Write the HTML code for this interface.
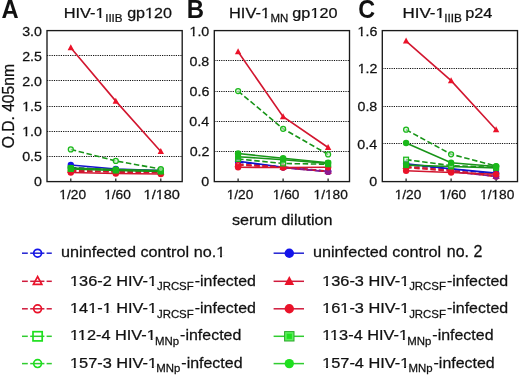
<!DOCTYPE html>
<html><head><meta charset="utf-8"><style>
html,body{margin:0;padding:0;background:#fff;overflow:hidden;}
svg{display:block;}
text{font-family:"Liberation Sans", sans-serif;fill:#111;stroke:#111;stroke-width:0.25px;}
svg{will-change:transform;}
</style></head><body>
<svg width="520" height="377" viewBox="0 0 520 377">
<rect width="520" height="377" fill="#fff"/>
<text transform="translate(1.51,18) scale(0.9493,1)" font-size="25" font-weight="bold" style="stroke:none">A</text>
<text transform="translate(186.84,18) scale(0.9574,1)" font-size="25" font-weight="bold" style="stroke:none">B</text>
<text transform="translate(358.37,18) scale(0.9344,1)" font-size="25" font-weight="bold" style="stroke:none">C</text>
<g transform="translate(63.69,18) scale(1.0777,1)"><text font-size="15.2">HIV-1</text><rect x="29.40" y="-1.74" width="3.73" height="2.84" fill="#fff"/><rect x="34.94" y="-1.74" width="3.05" height="2.84" fill="#fff"/></g>
<text transform="translate(105.15,22) scale(1.0373,1)" font-size="11.2">IIIB</text>
<g transform="translate(127.16,18) scale(1.0599,1)"><text font-size="15.2">gp120</text><rect x="16.74" y="-1.74" width="3.73" height="2.84" fill="#fff"/><rect x="22.28" y="-1.74" width="3.05" height="2.84" fill="#fff"/></g>
<g transform="translate(228.99,18) scale(1.0807,1)"><text font-size="15.2">HIV-1</text><rect x="29.38" y="-1.74" width="3.73" height="2.84" fill="#fff"/><rect x="34.92" y="-1.74" width="3.05" height="2.84" fill="#fff"/></g>
<text transform="translate(270.38,22) scale(1.0241,1)" font-size="11.2">MN</text>
<g transform="translate(292.35,18) scale(1.0673,1)"><text font-size="15.2">gp120</text><rect x="16.72" y="-1.74" width="3.73" height="2.84" fill="#fff"/><rect x="22.26" y="-1.74" width="3.05" height="2.84" fill="#fff"/></g>
<g transform="translate(402.44,18) scale(1.1164,1)"><text font-size="15.2">HIV-1</text><rect x="29.38" y="-1.74" width="3.73" height="2.84" fill="#fff"/><rect x="34.92" y="-1.74" width="3.05" height="2.84" fill="#fff"/></g>
<text transform="translate(444.14,22) scale(1.0504,1)" font-size="11.2">IIIB</text>
<text transform="translate(465.24,18) scale(1.0727,1)" font-size="15.2">p24</text>
<text transform="translate(14.3,106.2) rotate(-90) scale(1.03,1.056)" text-anchor="middle" font-size="15.2">O.D. 405nm</text>
<line x1="47.00" y1="156.50" x2="182.20" y2="156.50" stroke="#111" stroke-width="1.2" stroke-dasharray="1.2 1.1"/>
<line x1="47.00" y1="131.50" x2="182.20" y2="131.50" stroke="#111" stroke-width="1.2" stroke-dasharray="1.2 1.1"/>
<line x1="47.00" y1="106.50" x2="182.20" y2="106.50" stroke="#111" stroke-width="1.2" stroke-dasharray="1.2 1.1"/>
<line x1="47.00" y1="80.50" x2="182.20" y2="80.50" stroke="#111" stroke-width="1.2" stroke-dasharray="1.2 1.1"/>
<line x1="47.00" y1="55.50" x2="182.20" y2="55.50" stroke="#111" stroke-width="1.2" stroke-dasharray="1.2 1.1"/>
<rect x="47.0" y="30.6" width="135.2" height="151.00" fill="none" stroke="#1a1a1a" stroke-width="1.35"/>
<line x1="70.80" y1="181.6" x2="70.80" y2="178.40" stroke="#1a1a1a" stroke-width="1.2"/>
<line x1="115.80" y1="181.6" x2="115.80" y2="178.40" stroke="#1a1a1a" stroke-width="1.2"/>
<line x1="160.80" y1="181.6" x2="160.80" y2="178.40" stroke="#1a1a1a" stroke-width="1.2"/>
<text transform="translate(34.07,186) scale(1.0700,1)" font-size="13.3">0</text>
<text transform="translate(22.19,161) scale(1.0700,1)" font-size="13.3">0.5</text>
<g transform="translate(22.19,136) scale(1.0700,1)"><text font-size="13.3">1.0</text><rect x="-0.13" y="-1.60" width="3.24" height="2.70" fill="#fff"/><rect x="4.74" y="-1.60" width="2.64" height="2.70" fill="#fff"/></g>
<g transform="translate(22.19,111) scale(1.0700,1)"><text font-size="13.3">1.5</text><rect x="-0.13" y="-1.60" width="3.24" height="2.70" fill="#fff"/><rect x="4.74" y="-1.60" width="2.64" height="2.70" fill="#fff"/></g>
<text transform="translate(22.19,86) scale(1.0700,1)" font-size="13.3">2.0</text>
<text transform="translate(22.19,61) scale(1.0700,1)" font-size="13.3">2.5</text>
<text transform="translate(22.19,36) scale(1.0700,1)" font-size="13.3">3.0</text>
<g transform="translate(59.34,199) scale(1.0400,1)"><text font-size="13.2">1/20</text><rect x="-0.13" y="-1.59" width="3.21" height="2.69" fill="#fff"/><rect x="4.71" y="-1.59" width="2.62" height="2.69" fill="#fff"/></g>
<g transform="translate(104.14,199) scale(1.0400,1)"><text font-size="13.2">1/60</text><rect x="-0.13" y="-1.59" width="3.21" height="2.69" fill="#fff"/><rect x="4.71" y="-1.59" width="2.62" height="2.69" fill="#fff"/></g>
<g transform="translate(143.57,199) scale(1.1024,1)"><text font-size="13.2">1/180</text><rect x="-0.13" y="-1.59" width="3.21" height="2.69" fill="#fff"/><rect x="4.71" y="-1.59" width="2.62" height="2.69" fill="#fff"/><rect x="10.85" y="-1.59" width="3.21" height="2.69" fill="#fff"/><rect x="15.69" y="-1.59" width="2.62" height="2.69" fill="#fff"/></g>
<polyline points="70.80,165.00 115.80,169.03 160.80,170.53" fill="none" stroke="#1414cc" stroke-width="1.6"/>
<circle cx="70.80" cy="165.00" r="3.2" fill="#1414ea"/>
<circle cx="115.80" cy="169.03" r="3.2" fill="#1414ea"/>
<circle cx="160.80" cy="170.53" r="3.2" fill="#1414ea"/>
<polyline points="70.80,167.52 115.80,170.03 160.80,171.04" fill="none" stroke="#1414cc" stroke-width="1.6" stroke-dasharray="5.5 2.6"/>
<circle cx="70.80" cy="167.52" r="2.5" fill="#e2e2fc" fill-opacity="0.6" stroke="#1414ea" stroke-width="1.25"/>
<circle cx="115.80" cy="170.03" r="2.5" fill="#e2e2fc" fill-opacity="0.6" stroke="#1414ea" stroke-width="1.25"/>
<circle cx="160.80" cy="171.04" r="2.5" fill="#e2e2fc" fill-opacity="0.6" stroke="#1414ea" stroke-width="1.25"/>
<polyline points="70.80,172.55 115.80,173.55 160.80,174.06" fill="none" stroke="#d2162f" stroke-width="1.6"/>
<circle cx="70.80" cy="172.55" r="3.2" fill="#ea1229"/>
<circle cx="115.80" cy="173.55" r="3.2" fill="#ea1229"/>
<circle cx="160.80" cy="174.06" r="3.2" fill="#ea1229"/>
<polyline points="70.80,171.04 115.80,172.04 160.80,172.55" fill="none" stroke="#d2162f" stroke-width="1.6" stroke-dasharray="5.5 2.6"/>
<circle cx="70.80" cy="171.04" r="2.5" fill="#fce2e5" fill-opacity="0.6" stroke="#ea1229" stroke-width="1.25"/>
<circle cx="115.80" cy="172.04" r="2.5" fill="#fce2e5" fill-opacity="0.6" stroke="#ea1229" stroke-width="1.25"/>
<circle cx="160.80" cy="172.55" r="2.5" fill="#fce2e5" fill-opacity="0.6" stroke="#ea1229" stroke-width="1.25"/>
<polyline points="70.80,170.53 115.80,171.54 160.80,172.04" fill="none" stroke="#d2162f" stroke-width="1.6" stroke-dasharray="5.5 2.6"/>
<polygon points="70.80,167.65 68.20,172.45 73.40,172.45" fill="#fce2e5" fill-opacity="0.6" stroke="#ea1229" stroke-width="1.25"/>
<polygon points="115.80,168.66 113.20,173.46 118.40,173.46" fill="#fce2e5" fill-opacity="0.6" stroke="#ea1229" stroke-width="1.25"/>
<polygon points="160.80,169.16 158.20,173.96 163.40,173.96" fill="#fce2e5" fill-opacity="0.6" stroke="#ea1229" stroke-width="1.25"/>
<polyline points="70.80,168.02 115.80,170.03 160.80,171.04" fill="none" stroke="#189418" stroke-width="1.6" stroke-dasharray="5.5 2.6"/>
<rect x="68.40" y="165.62" width="4.80" height="4.80" fill="#ccefcc" fill-opacity="0.6" stroke="#1ab81a" stroke-width="1.25"/>
<rect x="113.40" y="167.63" width="4.80" height="4.80" fill="#ccefcc" fill-opacity="0.6" stroke="#1ab81a" stroke-width="1.25"/>
<rect x="158.40" y="168.64" width="4.80" height="4.80" fill="#ccefcc" fill-opacity="0.6" stroke="#1ab81a" stroke-width="1.25"/>
<polyline points="70.80,169.03 115.80,170.53 160.80,171.54" fill="none" stroke="#189418" stroke-width="1.6"/>
<rect x="67.80" y="166.03" width="6.00" height="6.00" fill="#1ab81a"/>
<rect x="112.80" y="167.53" width="6.00" height="6.00" fill="#1ab81a"/>
<rect x="157.80" y="168.54" width="6.00" height="6.00" fill="#1ab81a"/>
<polyline points="70.80,168.02 115.80,169.53 160.80,170.53" fill="none" stroke="#189418" stroke-width="1.6"/>
<circle cx="70.80" cy="168.02" r="3.2" fill="#1ab81a"/>
<circle cx="115.80" cy="169.53" r="3.2" fill="#1ab81a"/>
<circle cx="160.80" cy="170.53" r="3.2" fill="#1ab81a"/>
<polyline points="70.80,149.41 115.80,160.98 160.80,169.03" fill="none" stroke="#189418" stroke-width="1.6" stroke-dasharray="5.5 2.6"/>
<circle cx="70.80" cy="149.41" r="2.5" fill="#ccefcc" fill-opacity="0.6" stroke="#1ab81a" stroke-width="1.25"/>
<circle cx="115.80" cy="160.98" r="2.5" fill="#ccefcc" fill-opacity="0.6" stroke="#1ab81a" stroke-width="1.25"/>
<circle cx="160.80" cy="169.03" r="2.5" fill="#ccefcc" fill-opacity="0.6" stroke="#1ab81a" stroke-width="1.25"/>
<polyline points="70.80,47.80 115.80,101.12 160.80,151.42" fill="none" stroke="#d2162f" stroke-width="1.6"/>
<polygon points="70.80,44.32 67.60,50.32 74.00,50.32" fill="#ea1229"/>
<polygon points="115.80,97.64 112.60,103.64 119.00,103.64" fill="#ea1229"/>
<polygon points="160.80,147.94 157.60,153.94 164.00,153.94" fill="#ea1229"/>
<line x1="214.30" y1="151.50" x2="349.50" y2="151.50" stroke="#111" stroke-width="1.2" stroke-dasharray="1.2 1.1"/>
<line x1="214.30" y1="121.50" x2="349.50" y2="121.50" stroke="#111" stroke-width="1.2" stroke-dasharray="1.2 1.1"/>
<line x1="214.30" y1="91.50" x2="349.50" y2="91.50" stroke="#111" stroke-width="1.2" stroke-dasharray="1.2 1.1"/>
<line x1="214.30" y1="60.50" x2="349.50" y2="60.50" stroke="#111" stroke-width="1.2" stroke-dasharray="1.2 1.1"/>
<rect x="214.3" y="30.6" width="135.2" height="151.00" fill="none" stroke="#1a1a1a" stroke-width="1.35"/>
<line x1="238.10" y1="181.6" x2="238.10" y2="178.40" stroke="#1a1a1a" stroke-width="1.2"/>
<line x1="283.10" y1="181.6" x2="283.10" y2="178.40" stroke="#1a1a1a" stroke-width="1.2"/>
<line x1="328.10" y1="181.6" x2="328.10" y2="178.40" stroke="#1a1a1a" stroke-width="1.2"/>
<text transform="translate(201.37,186) scale(1.0700,1)" font-size="13.3">0</text>
<text transform="translate(189.63,156) scale(1.0700,1)" font-size="13.3">0.2</text>
<text transform="translate(189.35,126) scale(1.0700,1)" font-size="13.3">0.4</text>
<text transform="translate(189.56,96) scale(1.0700,1)" font-size="13.3">0.6</text>
<text transform="translate(189.49,66) scale(1.0700,1)" font-size="13.3">0.8</text>
<g transform="translate(189.49,36) scale(1.0700,1)"><text font-size="13.3">1.0</text><rect x="-0.13" y="-1.60" width="3.24" height="2.70" fill="#fff"/><rect x="4.74" y="-1.60" width="2.64" height="2.70" fill="#fff"/></g>
<g transform="translate(226.64,199) scale(1.0400,1)"><text font-size="13.2">1/20</text><rect x="-0.13" y="-1.59" width="3.21" height="2.69" fill="#fff"/><rect x="4.71" y="-1.59" width="2.62" height="2.69" fill="#fff"/></g>
<g transform="translate(272.74,199) scale(1.0400,1)"><text font-size="13.2">1/60</text><rect x="-0.13" y="-1.59" width="3.21" height="2.69" fill="#fff"/><rect x="4.71" y="-1.59" width="2.62" height="2.69" fill="#fff"/></g>
<g transform="translate(313.53,199) scale(1.0400,1)"><text font-size="13.2">1/180</text><rect x="-0.13" y="-1.59" width="3.21" height="2.69" fill="#fff"/><rect x="4.71" y="-1.59" width="2.62" height="2.69" fill="#fff"/><rect x="10.86" y="-1.59" width="3.21" height="2.69" fill="#fff"/><rect x="15.70" y="-1.59" width="2.62" height="2.69" fill="#fff"/></g>
<polyline points="238.10,161.23 283.10,167.26 328.10,171.79" fill="none" stroke="#1414cc" stroke-width="1.6"/>
<circle cx="238.10" cy="161.23" r="3.2" fill="#1414ea"/>
<circle cx="283.10" cy="167.26" r="3.2" fill="#1414ea"/>
<circle cx="328.10" cy="171.79" r="3.2" fill="#1414ea"/>
<polyline points="238.10,161.98 283.10,167.26 328.10,171.04" fill="none" stroke="#1414cc" stroke-width="1.6" stroke-dasharray="5.5 2.6"/>
<circle cx="238.10" cy="161.98" r="2.5" fill="#e2e2fc" fill-opacity="0.6" stroke="#1414ea" stroke-width="1.25"/>
<circle cx="283.10" cy="167.26" r="2.5" fill="#e2e2fc" fill-opacity="0.6" stroke="#1414ea" stroke-width="1.25"/>
<circle cx="328.10" cy="171.04" r="2.5" fill="#e2e2fc" fill-opacity="0.6" stroke="#1414ea" stroke-width="1.25"/>
<polyline points="238.10,165.00 283.10,167.26 328.10,171.64" fill="none" stroke="#d2162f" stroke-width="1.6" stroke-dasharray="5.5 2.6"/>
<circle cx="238.10" cy="165.00" r="2.5" fill="#fce2e5" fill-opacity="0.6" stroke="#ea1229" stroke-width="1.25"/>
<circle cx="283.10" cy="167.26" r="2.5" fill="#fce2e5" fill-opacity="0.6" stroke="#ea1229" stroke-width="1.25"/>
<circle cx="328.10" cy="171.64" r="2.5" fill="#fce2e5" fill-opacity="0.6" stroke="#ea1229" stroke-width="1.25"/>
<polyline points="238.10,164.25 283.10,167.26 328.10,171.34" fill="none" stroke="#d2162f" stroke-width="1.6" stroke-dasharray="5.5 2.6"/>
<polygon points="238.10,161.37 235.50,166.17 240.70,166.17" fill="#fce2e5" fill-opacity="0.6" stroke="#ea1229" stroke-width="1.25"/>
<polygon points="283.10,164.38 280.50,169.18 285.70,169.18" fill="#fce2e5" fill-opacity="0.6" stroke="#ea1229" stroke-width="1.25"/>
<polygon points="328.10,168.46 325.50,173.26 330.70,173.26" fill="#fce2e5" fill-opacity="0.6" stroke="#ea1229" stroke-width="1.25"/>
<line x1="283.10" y1="167.72" x2="328.10" y2="171.64" stroke="#8a1a8e" stroke-width="1.6" stroke-dasharray="5.5 2.6"/>
<circle cx="328.10" cy="171.64" r="3.2" fill="#8a1a92"/>
<polyline points="238.10,167.26 283.10,167.57 328.10,167.26" fill="none" stroke="#d2162f" stroke-width="1.6"/>
<circle cx="238.10" cy="167.26" r="3.2" fill="#ea1229"/>
<circle cx="283.10" cy="167.57" r="3.2" fill="#ea1229"/>
<circle cx="328.10" cy="167.26" r="3.2" fill="#ea1229"/>
<polyline points="238.10,158.97 283.10,163.49 328.10,164.25" fill="none" stroke="#189418" stroke-width="1.6" stroke-dasharray="5.5 2.6"/>
<rect x="235.70" y="156.56" width="4.80" height="4.80" fill="#ccefcc" fill-opacity="0.6" stroke="#1ab81a" stroke-width="1.25"/>
<rect x="280.70" y="161.09" width="4.80" height="4.80" fill="#ccefcc" fill-opacity="0.6" stroke="#1ab81a" stroke-width="1.25"/>
<rect x="325.70" y="161.85" width="4.80" height="4.80" fill="#ccefcc" fill-opacity="0.6" stroke="#1ab81a" stroke-width="1.25"/>
<polyline points="238.10,156.70 283.10,159.72 328.10,163.49" fill="none" stroke="#189418" stroke-width="1.6"/>
<rect x="235.10" y="153.70" width="6.00" height="6.00" fill="#1ab81a"/>
<rect x="280.10" y="156.72" width="6.00" height="6.00" fill="#1ab81a"/>
<rect x="325.10" y="160.49" width="6.00" height="6.00" fill="#1ab81a"/>
<polyline points="238.10,153.53 283.10,158.21 328.10,162.74" fill="none" stroke="#189418" stroke-width="1.6"/>
<circle cx="238.10" cy="153.53" r="3.2" fill="#1ab81a"/>
<circle cx="283.10" cy="158.21" r="3.2" fill="#1ab81a"/>
<circle cx="328.10" cy="162.74" r="3.2" fill="#1ab81a"/>
<polyline points="238.10,91.06 283.10,128.78 328.10,154.44" fill="none" stroke="#189418" stroke-width="1.6" stroke-dasharray="5.5 2.6"/>
<circle cx="238.10" cy="91.06" r="2.5" fill="#ccefcc" fill-opacity="0.6" stroke="#1ab81a" stroke-width="1.25"/>
<circle cx="283.10" cy="128.78" r="2.5" fill="#ccefcc" fill-opacity="0.6" stroke="#1ab81a" stroke-width="1.25"/>
<circle cx="328.10" cy="154.44" r="2.5" fill="#ccefcc" fill-opacity="0.6" stroke="#1ab81a" stroke-width="1.25"/>
<polyline points="238.10,51.83 283.10,116.71 328.10,147.50" fill="none" stroke="#d2162f" stroke-width="1.6"/>
<polygon points="238.10,48.35 234.90,54.35 241.30,54.35" fill="#ea1229"/>
<polygon points="283.10,113.23 279.90,119.23 286.30,119.23" fill="#ea1229"/>
<polygon points="328.10,144.02 324.90,150.02 331.30,150.02" fill="#ea1229"/>
<line x1="382.30" y1="143.50" x2="517.50" y2="143.50" stroke="#111" stroke-width="1.2" stroke-dasharray="1.2 1.1"/>
<line x1="382.30" y1="106.50" x2="517.50" y2="106.50" stroke="#111" stroke-width="1.2" stroke-dasharray="1.2 1.1"/>
<line x1="382.30" y1="68.50" x2="517.50" y2="68.50" stroke="#111" stroke-width="1.2" stroke-dasharray="1.2 1.1"/>
<rect x="382.3" y="30.6" width="135.2" height="151.00" fill="none" stroke="#1a1a1a" stroke-width="1.35"/>
<line x1="406.10" y1="181.6" x2="406.10" y2="178.40" stroke="#1a1a1a" stroke-width="1.2"/>
<line x1="451.10" y1="181.6" x2="451.10" y2="178.40" stroke="#1a1a1a" stroke-width="1.2"/>
<line x1="496.10" y1="181.6" x2="496.10" y2="178.40" stroke="#1a1a1a" stroke-width="1.2"/>
<text transform="translate(369.37,186) scale(1.0700,1)" font-size="13.3">0</text>
<text transform="translate(357.35,149) scale(1.0700,1)" font-size="13.3">0.4</text>
<text transform="translate(357.49,111) scale(1.0700,1)" font-size="13.3">0.8</text>
<g transform="translate(357.63,73) scale(1.0700,1)"><text font-size="13.3">1.2</text><rect x="-0.13" y="-1.60" width="3.24" height="2.70" fill="#fff"/><rect x="4.74" y="-1.60" width="2.64" height="2.70" fill="#fff"/></g>
<g transform="translate(357.56,36) scale(1.0700,1)"><text font-size="13.3">1.6</text><rect x="-0.13" y="-1.60" width="3.24" height="2.70" fill="#fff"/><rect x="4.74" y="-1.60" width="2.64" height="2.70" fill="#fff"/></g>
<g transform="translate(394.64,199) scale(1.0400,1)"><text font-size="13.2">1/20</text><rect x="-0.13" y="-1.59" width="3.21" height="2.69" fill="#fff"/><rect x="4.71" y="-1.59" width="2.62" height="2.69" fill="#fff"/></g>
<g transform="translate(439.44,199) scale(1.0400,1)"><text font-size="13.2">1/60</text><rect x="-0.13" y="-1.59" width="3.21" height="2.69" fill="#fff"/><rect x="4.71" y="-1.59" width="2.62" height="2.69" fill="#fff"/></g>
<g transform="translate(480.03,199) scale(1.0400,1)"><text font-size="13.2">1/180</text><rect x="-0.13" y="-1.59" width="3.21" height="2.69" fill="#fff"/><rect x="4.71" y="-1.59" width="2.62" height="2.69" fill="#fff"/><rect x="10.86" y="-1.59" width="3.21" height="2.69" fill="#fff"/><rect x="15.70" y="-1.59" width="2.62" height="2.69" fill="#fff"/></g>
<polyline points="406.10,163.68 451.10,168.87 496.10,173.11" fill="none" stroke="#1414cc" stroke-width="1.6"/>
<circle cx="406.10" cy="163.68" r="3.2" fill="#1414ea"/>
<circle cx="451.10" cy="168.87" r="3.2" fill="#1414ea"/>
<circle cx="496.10" cy="173.11" r="3.2" fill="#1414ea"/>
<polyline points="406.10,164.62 451.10,169.34 496.10,173.58" fill="none" stroke="#1414cc" stroke-width="1.6" stroke-dasharray="5.5 2.6"/>
<circle cx="406.10" cy="164.62" r="2.5" fill="#e2e2fc" fill-opacity="0.6" stroke="#1414ea" stroke-width="1.25"/>
<circle cx="451.10" cy="169.34" r="2.5" fill="#e2e2fc" fill-opacity="0.6" stroke="#1414ea" stroke-width="1.25"/>
<circle cx="496.10" cy="173.58" r="2.5" fill="#e2e2fc" fill-opacity="0.6" stroke="#1414ea" stroke-width="1.25"/>
<polyline points="406.10,167.45 451.10,171.23 496.10,176.41" fill="none" stroke="#d2162f" stroke-width="1.6" stroke-dasharray="5.5 2.6"/>
<circle cx="406.10" cy="167.45" r="2.5" fill="#fce2e5" fill-opacity="0.6" stroke="#ea1229" stroke-width="1.25"/>
<circle cx="451.10" cy="171.23" r="2.5" fill="#fce2e5" fill-opacity="0.6" stroke="#ea1229" stroke-width="1.25"/>
<circle cx="496.10" cy="176.41" r="2.5" fill="#fce2e5" fill-opacity="0.6" stroke="#ea1229" stroke-width="1.25"/>
<polyline points="406.10,166.51 451.10,170.28 496.10,176.41" fill="none" stroke="#d2162f" stroke-width="1.6" stroke-dasharray="5.5 2.6"/>
<polygon points="406.10,163.63 403.50,168.43 408.70,168.43" fill="#fce2e5" fill-opacity="0.6" stroke="#ea1229" stroke-width="1.25"/>
<polygon points="451.10,167.40 448.50,172.20 453.70,172.20" fill="#fce2e5" fill-opacity="0.6" stroke="#ea1229" stroke-width="1.25"/>
<polygon points="496.10,173.53 493.50,178.33 498.70,178.33" fill="#fce2e5" fill-opacity="0.6" stroke="#ea1229" stroke-width="1.25"/>
<line x1="451.10" y1="171.70" x2="496.10" y2="176.41" stroke="#8a1a8e" stroke-width="1.6" stroke-dasharray="5.5 2.6"/>
<circle cx="496.10" cy="176.41" r="3.2" fill="#8a1a92"/>
<polyline points="406.10,170.75 451.10,172.45 496.10,174.24" fill="none" stroke="#d2162f" stroke-width="1.6"/>
<circle cx="406.10" cy="170.75" r="3.2" fill="#ea1229"/>
<circle cx="451.10" cy="172.45" r="3.2" fill="#ea1229"/>
<circle cx="496.10" cy="174.24" r="3.2" fill="#ea1229"/>
<polyline points="406.10,165.10 451.10,166.51 496.10,167.92" fill="none" stroke="#189418" stroke-width="1.6"/>
<rect x="403.10" y="162.10" width="6.00" height="6.00" fill="#1ab81a"/>
<rect x="448.10" y="163.51" width="6.00" height="6.00" fill="#1ab81a"/>
<rect x="493.10" y="164.92" width="6.00" height="6.00" fill="#1ab81a"/>
<polyline points="406.10,159.63 451.10,165.57 496.10,167.45" fill="none" stroke="#189418" stroke-width="1.6" stroke-dasharray="5.5 2.6"/>
<rect x="403.70" y="157.23" width="4.80" height="4.80" fill="#ccefcc" fill-opacity="0.6" stroke="#1ab81a" stroke-width="1.25"/>
<rect x="448.70" y="163.17" width="4.80" height="4.80" fill="#ccefcc" fill-opacity="0.6" stroke="#1ab81a" stroke-width="1.25"/>
<rect x="493.70" y="165.05" width="4.80" height="4.80" fill="#ccefcc" fill-opacity="0.6" stroke="#1ab81a" stroke-width="1.25"/>
<polyline points="406.10,129.73 451.10,154.25 496.10,166.04" fill="none" stroke="#189418" stroke-width="1.6" stroke-dasharray="5.5 2.6"/>
<circle cx="406.10" cy="129.73" r="2.5" fill="#ccefcc" fill-opacity="0.6" stroke="#1ab81a" stroke-width="1.25"/>
<circle cx="451.10" cy="154.25" r="2.5" fill="#ccefcc" fill-opacity="0.6" stroke="#1ab81a" stroke-width="1.25"/>
<circle cx="496.10" cy="166.04" r="2.5" fill="#ccefcc" fill-opacity="0.6" stroke="#1ab81a" stroke-width="1.25"/>
<polyline points="406.10,142.93 451.10,162.74 496.10,166.51" fill="none" stroke="#189418" stroke-width="1.6"/>
<circle cx="406.10" cy="142.93" r="3.2" fill="#1ab81a"/>
<circle cx="451.10" cy="162.74" r="3.2" fill="#1ab81a"/>
<circle cx="496.10" cy="166.51" r="3.2" fill="#1ab81a"/>
<polyline points="406.10,41.07 451.10,80.69 496.10,129.73" fill="none" stroke="#d2162f" stroke-width="1.6"/>
<polygon points="406.10,37.59 402.90,43.59 409.30,43.59" fill="#ea1229"/>
<polygon points="451.10,77.21 447.90,83.21 454.30,83.21" fill="#ea1229"/>
<polygon points="496.10,126.25 492.90,132.25 499.30,132.25" fill="#ea1229"/>
<text transform="translate(231.92,225) scale(1.0636,1)" font-size="15.2">serum dilution</text>
<line x1="22.00" y1="253.2" x2="27.80" y2="253.2" stroke="#2222d2" stroke-width="1.5"/>
<line x1="30.20" y1="253.2" x2="44.40" y2="253.2" stroke="#2222d2" stroke-width="1.5"/>
<line x1="46.60" y1="253.2" x2="51.80" y2="253.2" stroke="#2222d2" stroke-width="1.5"/>
<circle cx="37.60" cy="253.20" r="3.9" fill="none" fill-opacity="0.6" stroke="#1414ea" stroke-width="1.7"/>
<g transform="translate(61.04,257) scale(1.0680,1)"><text font-size="15.2">uninfected control no.1</text><rect x="145.12" y="-1.74" width="3.73" height="2.84" fill="#fff"/><rect x="150.66" y="-1.74" width="3.05" height="2.84" fill="#fff"/></g>
<line x1="22.00" y1="281.3" x2="27.80" y2="281.3" stroke="#d01a3c" stroke-width="1.5"/>
<line x1="30.20" y1="281.3" x2="44.40" y2="281.3" stroke="#d01a3c" stroke-width="1.5"/>
<line x1="46.60" y1="281.3" x2="51.80" y2="281.3" stroke="#d01a3c" stroke-width="1.5"/>
<polygon points="37.60,276.62 33.40,284.42 41.80,284.42" fill="none" fill-opacity="0.6" stroke="#ea1229" stroke-width="1.7"/>
<g transform="translate(69.97,286) scale(1.0750,1)"><text font-size="15.2">136-2 HIV-1</text><rect x="-0.15" y="-1.74" width="3.73" height="2.84" fill="#fff"/><rect x="5.39" y="-1.74" width="3.05" height="2.84" fill="#fff"/><rect x="72.44" y="-1.74" width="3.73" height="2.84" fill="#fff"/><rect x="77.98" y="-1.74" width="3.05" height="2.84" fill="#fff"/></g>
<text transform="translate(156.94,290) scale(1.0200,1)" font-size="11.2">JRCSF</text>
<text transform="translate(194.75,286) scale(1.0500,1)" font-size="15.2">-infected</text>
<line x1="22.00" y1="308.8" x2="27.80" y2="308.8" stroke="#d01a3c" stroke-width="1.5"/>
<line x1="30.20" y1="308.8" x2="44.40" y2="308.8" stroke="#d01a3c" stroke-width="1.5"/>
<line x1="46.60" y1="308.8" x2="51.80" y2="308.8" stroke="#d01a3c" stroke-width="1.5"/>
<circle cx="37.60" cy="308.80" r="3.9" fill="none" fill-opacity="0.6" stroke="#ea1229" stroke-width="1.7"/>
<g transform="translate(69.97,313) scale(1.0750,1)"><text font-size="15.2">141-1 HIV-1</text><rect x="-0.15" y="-1.74" width="3.73" height="2.84" fill="#fff"/><rect x="5.39" y="-1.74" width="3.05" height="2.84" fill="#fff"/><rect x="16.73" y="-1.74" width="3.73" height="2.84" fill="#fff"/><rect x="22.27" y="-1.74" width="3.05" height="2.84" fill="#fff"/><rect x="30.23" y="-1.74" width="3.73" height="2.84" fill="#fff"/><rect x="35.77" y="-1.74" width="3.05" height="2.84" fill="#fff"/><rect x="72.44" y="-1.74" width="3.73" height="2.84" fill="#fff"/><rect x="77.98" y="-1.74" width="3.05" height="2.84" fill="#fff"/></g>
<text transform="translate(156.94,318) scale(1.0200,1)" font-size="11.2">JRCSF</text>
<text transform="translate(194.75,313) scale(1.0500,1)" font-size="15.2">-infected</text>
<line x1="22.00" y1="336.3" x2="27.80" y2="336.3" stroke="#30cc30" stroke-width="1.5"/>
<line x1="30.20" y1="336.3" x2="44.40" y2="336.3" stroke="#30cc30" stroke-width="1.5"/>
<line x1="46.60" y1="336.3" x2="51.80" y2="336.3" stroke="#30cc30" stroke-width="1.5"/>
<rect x="33.00" y="331.70" width="9.20" height="9.20" fill="none" fill-opacity="0.6" stroke="#1ee01e" stroke-width="1.7"/>
<g transform="translate(69.97,340) scale(1.0750,1)"><text font-size="15.2">112-4 HIV-1</text><rect x="-0.15" y="-1.74" width="3.73" height="2.84" fill="#fff"/><rect x="5.39" y="-1.74" width="3.05" height="2.84" fill="#fff"/><rect x="7.16" y="-1.74" width="3.73" height="2.84" fill="#fff"/><rect x="12.70" y="-1.74" width="3.05" height="2.84" fill="#fff"/><rect x="71.31" y="-1.74" width="3.73" height="2.84" fill="#fff"/><rect x="76.85" y="-1.74" width="3.05" height="2.84" fill="#fff"/></g>
<text transform="translate(154.99,345) scale(1.0200,1)" font-size="11.2">MNp</text>
<text transform="translate(180.12,340) scale(1.0500,1)" font-size="15.2">-infected</text>
<line x1="22.00" y1="363.6" x2="27.80" y2="363.6" stroke="#30cc30" stroke-width="1.5"/>
<line x1="30.20" y1="363.6" x2="44.40" y2="363.6" stroke="#30cc30" stroke-width="1.5"/>
<line x1="46.60" y1="363.6" x2="51.80" y2="363.6" stroke="#30cc30" stroke-width="1.5"/>
<circle cx="37.60" cy="363.60" r="3.9" fill="none" fill-opacity="0.6" stroke="#1ee01e" stroke-width="1.7"/>
<g transform="translate(69.97,368) scale(1.0750,1)"><text font-size="15.2">157-3 HIV-1</text><rect x="-0.15" y="-1.74" width="3.73" height="2.84" fill="#fff"/><rect x="5.39" y="-1.74" width="3.05" height="2.84" fill="#fff"/><rect x="72.44" y="-1.74" width="3.73" height="2.84" fill="#fff"/><rect x="77.98" y="-1.74" width="3.05" height="2.84" fill="#fff"/></g>
<text transform="translate(156.20,372) scale(1.0200,1)" font-size="11.2">MNp</text>
<text transform="translate(181.33,368) scale(1.0500,1)" font-size="15.2">-infected</text>
<line x1="273.6" y1="253.2" x2="304" y2="253.2" stroke="#2222d2" stroke-width="1.5"/>
<circle cx="289.30" cy="253.20" r="4.7" fill="#1414ea"/>
<text transform="translate(312.94,257) scale(1.0680,1)" font-size="15.2">uninfected control</text>
<text transform="translate(446.86,257) scale(0.9982,1)" font-size="16.0">no. 2</text>
<line x1="273.6" y1="281.3" x2="304" y2="281.3" stroke="#d01a3c" stroke-width="1.5"/>
<polygon points="289.30,276.08 284.50,285.08 294.10,285.08" fill="#ea1229"/>
<g transform="translate(322.17,286) scale(1.0750,1)"><text font-size="15.2">136-3 HIV-1</text><rect x="-0.15" y="-1.74" width="3.73" height="2.84" fill="#fff"/><rect x="5.39" y="-1.74" width="3.05" height="2.84" fill="#fff"/><rect x="72.44" y="-1.74" width="3.73" height="2.84" fill="#fff"/><rect x="77.98" y="-1.74" width="3.05" height="2.84" fill="#fff"/></g>
<text transform="translate(409.14,290) scale(1.0200,1)" font-size="11.2">JRCSF</text>
<text transform="translate(446.95,286) scale(1.0500,1)" font-size="15.2">-infected</text>
<line x1="273.6" y1="308.8" x2="304" y2="308.8" stroke="#d01a3c" stroke-width="1.5"/>
<circle cx="289.30" cy="308.80" r="4.7" fill="#ea1229"/>
<g transform="translate(322.17,313) scale(1.0750,1)"><text font-size="15.2">161-3 HIV-1</text><rect x="-0.15" y="-1.74" width="3.73" height="2.84" fill="#fff"/><rect x="5.39" y="-1.74" width="3.05" height="2.84" fill="#fff"/><rect x="16.73" y="-1.74" width="3.73" height="2.84" fill="#fff"/><rect x="22.27" y="-1.74" width="3.05" height="2.84" fill="#fff"/><rect x="72.44" y="-1.74" width="3.73" height="2.84" fill="#fff"/><rect x="77.98" y="-1.74" width="3.05" height="2.84" fill="#fff"/></g>
<text transform="translate(409.14,318) scale(1.0200,1)" font-size="11.2">JRCSF</text>
<text transform="translate(446.95,313) scale(1.0500,1)" font-size="15.2">-infected</text>
<line x1="273.6" y1="336.3" x2="304" y2="336.3" stroke="#30cc30" stroke-width="1.5"/>
<rect x="284.60" y="331.60" width="9.40" height="9.40" fill="#5cf05c" stroke="#2aa82a" stroke-width="1"/><rect x="286.70" y="333.70" width="5.20" height="5.20" fill="#1ee01e"/>
<g transform="translate(322.17,340) scale(1.0750,1)"><text font-size="15.2">113-4 HIV-1</text><rect x="-0.15" y="-1.74" width="3.73" height="2.84" fill="#fff"/><rect x="5.39" y="-1.74" width="3.05" height="2.84" fill="#fff"/><rect x="7.16" y="-1.74" width="3.73" height="2.84" fill="#fff"/><rect x="12.70" y="-1.74" width="3.05" height="2.84" fill="#fff"/><rect x="71.31" y="-1.74" width="3.73" height="2.84" fill="#fff"/><rect x="76.85" y="-1.74" width="3.05" height="2.84" fill="#fff"/></g>
<text transform="translate(407.19,345) scale(1.0200,1)" font-size="11.2">MNp</text>
<text transform="translate(432.32,340) scale(1.0500,1)" font-size="15.2">-infected</text>
<line x1="273.6" y1="363.6" x2="304" y2="363.6" stroke="#30cc30" stroke-width="1.5"/>
<circle cx="289.30" cy="363.60" r="4.7" fill="#1ee01e"/>
<g transform="translate(322.17,368) scale(1.0750,1)"><text font-size="15.2">157-4 HIV-1</text><rect x="-0.15" y="-1.74" width="3.73" height="2.84" fill="#fff"/><rect x="5.39" y="-1.74" width="3.05" height="2.84" fill="#fff"/><rect x="72.44" y="-1.74" width="3.73" height="2.84" fill="#fff"/><rect x="77.98" y="-1.74" width="3.05" height="2.84" fill="#fff"/></g>
<text transform="translate(408.40,372) scale(1.0200,1)" font-size="11.2">MNp</text>
<text transform="translate(433.53,368) scale(1.0500,1)" font-size="15.2">-infected</text>
</svg></body></html>
